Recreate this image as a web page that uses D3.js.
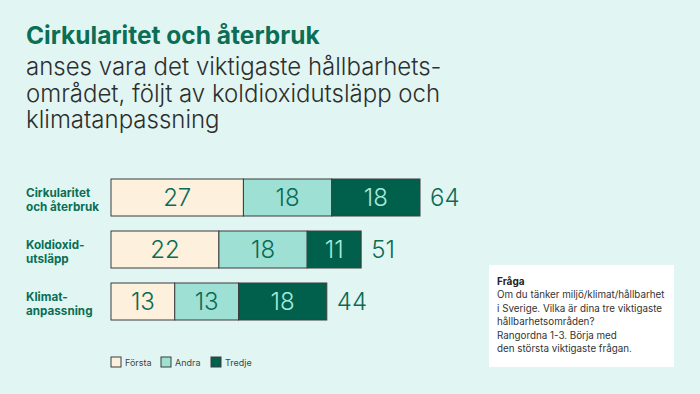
<!DOCTYPE html>
<html>
<head>
<meta charset="utf-8">
<script src="https://cdn.jsdelivr.net/npm/d3@7"></script>
<style>
  html, body { margin: 0; padding: 0; background: #e1f6f3; }
  svg { display: block; font-family: "Inter", sans-serif; }
</style>
</head>
<body>
<div class="container"></div>
<script>
const WIDTH = 700;
const HEIGHT = 394;

const BAR_LEFT = 111;
const BAR_RIGHT = 420;
const BAR_TOP = 179;
const BAR_BOTTOM = 320;

const categories = [
  ["Cirkularitet", "och återbruk"],
  ["Koldioxid-", "utsläpp"],
  ["Klimat-", "anpassning"]
];
const seriesNames = ["Första", "Andra", "Tredje"];
const forsta = [27, 22, 13];
const andra = [18, 18, 13];
const tredje = [18, 11, 18];
const totals = [64, 51, 44];

const colors = ["#fdf0dc", "#9fe0d4", "#00604c"];
const textColors = ["#0b6b55", "#0b6b55", "#a9e8da"];

const titleBold = "Cirkularitet och återbruk";
const subtitleLines = [
  "anses vara det viktigaste hållbarhets-",
  "området, följt av koldioxidutsläpp och",
  "klimatanpassning"
];
const noteTitle = "Fråga";
const noteLines = [
  "Om du tänker miljö/klimat/hållbarhet",
  "i Sverige. Vilka är dina tre viktigaste",
  "hållbarhetsområden?",
  "Rangordna 1-3. Börja med",
  "den största viktigaste frågan."
];

var translate = function(x, y){
  return "translate(" + x + "," + y + ")";
};

var rows = categories.map(function(c, i){
  var vals = [forsta[i], andra[i], tredje[i]];
  var start = 0;
  var segs = vals.map(function(v, k){
    var s = {row: i, k: k, x0: start, x1: start + v, value: v};
    start += v;
    return s;
  });
  return {key: i, label: c, segs: segs, sum: start, total: totals[i]};
});

var xScale = d3.scaleLinear()
  .domain([0, d3.max(rows, function(r){ return r.sum; })])
  .range([BAR_LEFT, BAR_RIGHT]);

var yScale = d3.scaleBand()
  .domain(rows.map(function(r){ return r.key; }))
  .range([BAR_TOP, BAR_BOTTOM])
  .paddingInner(15 / 52)
  .paddingOuter(0);

var svg = d3.select('.container').append('svg')
  .attr('width', WIDTH)
  .attr('height', HEIGHT);

svg.append('rect')
  .attr('width', WIDTH).attr('height', HEIGHT)
  .attr('fill', '#e1f6f3');

// title
svg.append('text')
  .attr('x', 26).attr('y', 44)
  .attr('fill', '#0b6e55')
  .attr('font-size', 24.5).attr('font-weight', 700)
  .text(titleBold);

svg.append('g').selectAll('text')
  .data(subtitleLines)
  .enter().append('text')
  .attr('x', 26)
  .attr('y', function(d, i){ return 75 + i * 26.7; })
  .attr('fill', '#2e2e2e')
  .attr('font-size', 24).attr('font-weight', 300)
  .text(function(d){ return d; });

// bars
var rowG = svg.append('g').selectAll('g')
  .data(rows)
  .enter().append('g');

rowG.selectAll('rect')
  .data(function(r){ return r.segs; })
  .enter().append('rect')
  .attr('x', function(d){ return xScale(d.x0); })
  .attr('y', function(d){ return yScale(d.row); })
  .attr('width', function(d){ return xScale(d.x1) - xScale(d.x0); })
  .attr('height', yScale.bandwidth())
  .attr('fill', function(d){ return colors[d.k]; })
  .attr('stroke', '#3d3d3d')
  .attr('stroke-width', 1);

rowG.selectAll('text.val')
  .data(function(r){ return r.segs; })
  .enter().append('text')
  .attr('class', 'val')
  .attr('x', function(d){ return (xScale(d.x0) + xScale(d.x1)) / 2; })
  .attr('y', function(d){ return yScale(d.row) + yScale.bandwidth() / 2 + 8.5; })
  .attr('text-anchor', 'middle')
  .attr('fill', function(d){ return textColors[d.k]; })
  .attr('font-size', 24).attr('font-weight', 300)
  .text(function(d){ return d.value; });

rowG.append('text')
  .attr('x', function(r){ return xScale(r.sum) + 10; })
  .attr('y', function(r){ return yScale(r.key) + yScale.bandwidth() / 2 + 8.5; })
  .attr('fill', '#0b6b55')
  .attr('font-size', 24).attr('font-weight', 300)
  .text(function(r){ return r.total; });

// category labels
rowG.append('text')
  .attr('fill', '#0b6e55')
  .attr('font-size', 11.7).attr('font-weight', 700)
  .selectAll('tspan')
  .data(function(r){ return r.label.map(function(l, i){ return {l: l, i: i, row: r.key}; }); })
  .enter().append('tspan')
  .attr('x', 26)
  .attr('y', function(d){ return yScale(d.row) + yScale.bandwidth() / 2 - 1 + d.i * 14; })
  .text(function(d){ return d.l; });

// legend
var legend = svg.append('g').selectAll('g')
  .data(seriesNames)
  .enter().append('g')
  .attr('transform', function(d, i){ return translate(111 + i * 50, 357); });

legend.append('rect')
  .attr('width', 10).attr('height', 10)
  .attr('fill', function(d, i){ return colors[i]; })
  .attr('stroke', '#3d3d3d');

legend.append('text')
  .attr('x', 14).attr('y', 9)
  .attr('fill', '#444')
  .attr('font-size', 9)
  .text(function(d){ return d; });

// note box
var note = svg.append('g').attr('transform', translate(489, 265));
note.append('rect')
  .attr('width', 185).attr('height', 102)
  .attr('fill', '#ffffff');
note.append('text')
  .attr('x', 8).attr('y', 20)
  .attr('fill', '#222')
  .attr('font-size', 10).attr('font-weight', 700)
  .text(noteTitle);
note.append('g').selectAll('text')
  .data(noteLines)
  .enter().append('text')
  .attr('x', 8)
  .attr('y', function(d, i){ return 33 + i * 13.5; })
  .attr('fill', '#333')
  .attr('font-size', 9.8)
  .text(function(d){ return d; });
</script>
</body>
</html>
